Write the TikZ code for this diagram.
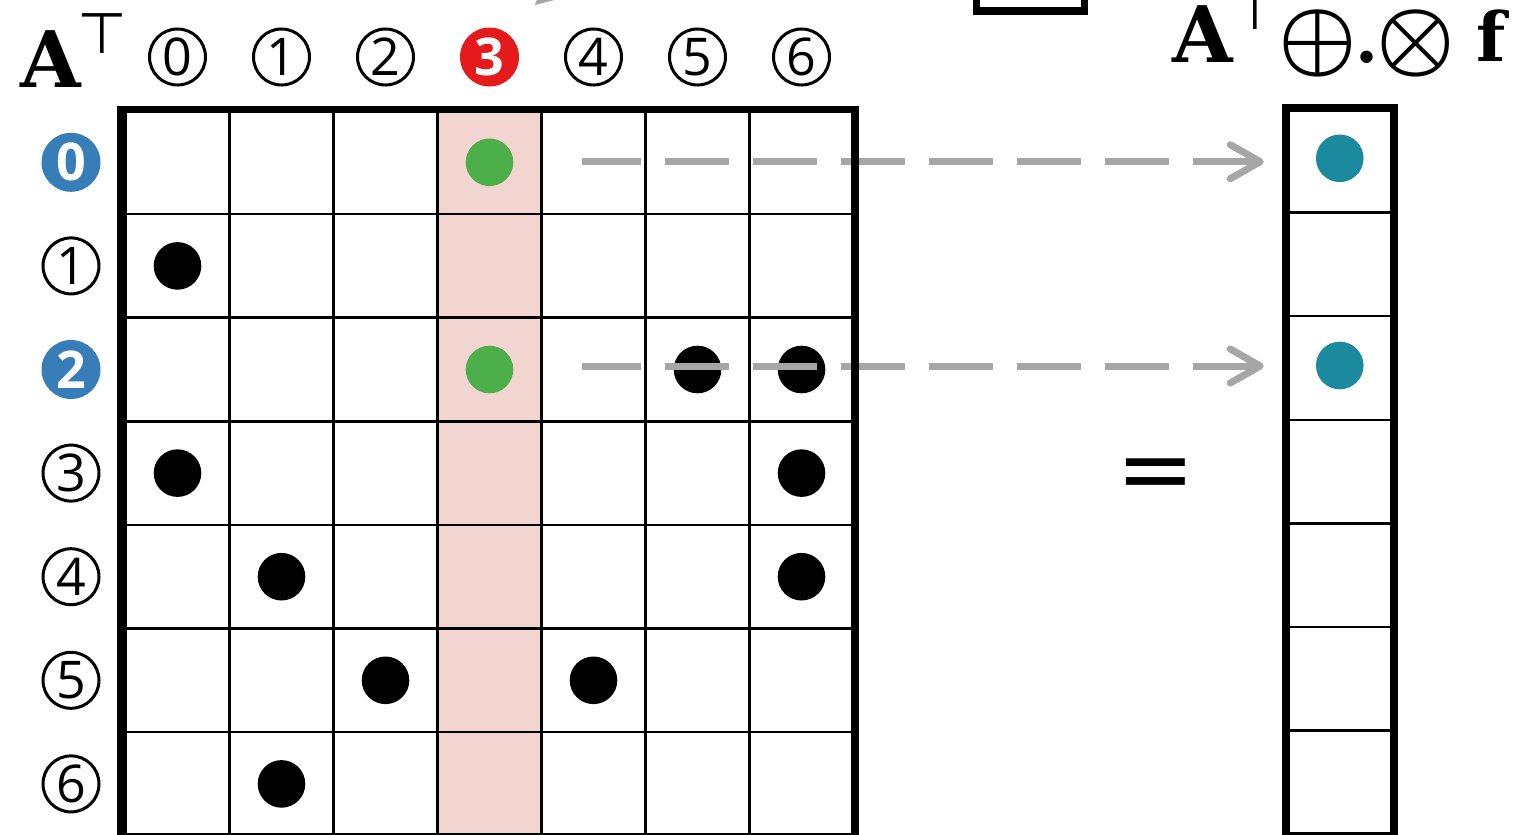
\documentclass[tikz,border=0pt]{standalone}
\usepackage{fontspec}
\setmainfont{DejaVu Serif}
\newfontfamily\symfont{DejaVu Sans}
\newfontfamily\digfont{Open Sans}
\usetikzlibrary{arrows.meta}
\definecolor{pinkcol}{HTML}{F2D4D1}
\definecolor{greendot}{HTML}{4DAF4A}
\definecolor{redlbl}{HTML}{E41A1C}
\definecolor{bluelbl}{HTML}{377EB8}
\definecolor{tealdot}{HTML}{1B8A9E}
\definecolor{arrowgray}{HTML}{A6A6A6}
\tikzset{
  cell/.style={draw, line width=2.5pt, minimum width=104pt, minimum height=103.6pt, inner sep=0pt},
  vcell/.style={draw, line width=2.5pt, minimum width=105.5pt, minimum height=103.6pt, inner sep=0pt},
  hicell/.style={cell, fill=pinkcol},
  border/.style={draw, line width=7.5pt},
  dotnode/.style={circle, fill=#1, minimum size=47.6pt, inner sep=0pt},
  olbl/.style={circle, draw, line width=3pt, minimum size=56pt, inner sep=0pt, font=\digfont\fontsize{52pt}{56pt}\selectfont},
  flbl/.style={circle, fill=#1, text=white, minimum size=59pt, inner sep=0pt, font=\digfont\bfseries\fontsize{52pt}{56pt}\selectfont},
  dasharrow/.style={draw=arrowgray, line width=7pt, dash pattern=on 64pt off 24pt, dash phase=5pt,
    -{Straight Barb[length=30pt, width=34pt, line cap=round, line join=round]}, shorten >=22pt},
  bigA/.style={inner sep=0pt, anchor=base, font=\bfseries\fontsize{78pt}{80pt}\selectfont},
  tack/.style={inner sep=0pt, anchor=base, font=\symfont\fontsize{57pt}{60pt}\selectfont},
  opsym/.style={inner sep=0pt, font=\boldmath},
}
\begin{document}
\begin{tikzpicture}[x=1pt, y=-1pt]
\path[use as bounding box] (0,0) rectangle (1537,835);
\clip (0,0) rectangle (1537,835);
\fill[white] (0,0) rectangle (1537,835);

% partial shapes cut by the top edge
\fill[arrowgray] (535,5) -- (558,-1) -- (541,-12) -- cycle;
\draw[border] (976.5,-60) rectangle (1084.5,11);

% matrix cells
\foreach \r in {0,...,6} {
  \foreach \c in {0,...,6} {
    \ifnum\c=3
      \node[hicell] (m-\r-\c) at ({125.5+104*(\c+0.5)}, {110.5+103.6*(\r+0.5)}) {};
    \else
      \node[cell] (m-\r-\c) at ({125.5+104*(\c+0.5)}, {110.5+103.6*(\r+0.5)}) {};
    \fi
  }
}

% dots
\foreach \r/\c in {1/0, 2/5, 2/6, 3/0, 3/6, 4/1, 4/6, 5/2, 5/4, 6/1}
  \node[dotnode=black] (d-\r-\c) at (m-\r-\c) {};
\foreach \r/\c in {0/3, 2/3}
  \node[dotnode=greendot] (d-\r-\c) at (m-\r-\c) {};

% result vector
\foreach \r in {0,...,6}
  \node[vcell] (v-\r) at (1339.75, {109+103.6*(\r+0.5)}) {};
\node[dotnode=tealdot] (t-0) at ([yshift=2.5pt]v-0.center) {};
\node[dotnode=tealdot] (t-2) at ([yshift=2.5pt]v-2.center) {};

% dashed arrows
\coordinate (a-0) at (582,161.7);
\coordinate (a-2) at (582,366);
\draw[dasharrow] (a-0) -- (v-0.west |- a-0);
\draw[dasharrow] (a-2) -- (v-2.west |- a-2);

% thick borders
\draw[border] ([xshift=-3.5pt]m-0-0.north west) rectangle (m-6-6.south east);
\draw[border] (v-0.north west) rectangle (v-6.south east);

% column headers
\foreach \c in {0,1,2,4,5,6}
  \node[olbl] (h-\c) at ({125.5+104*(\c+0.5)}, 57) {\c};
\node[flbl=redlbl] (h-3) at ({125.5+104*3.5}, 57) {3};

% row labels
\foreach \r in {1,3,4,5,6}
  \node[olbl] (r-\r) at (71, {110.5+103.6*(\r+0.5)}) {\r};
\node[flbl=bluelbl] (r-0) at (71, {110.5+103.6*0.5}) {0};
\node[flbl=bluelbl] (r-2) at (71, {110.5+103.6*2.5}) {2};

% left label
\node[bigA] (A1) at (51,87.3) {A};
\node[tack] (T1) at (102.5,53.3) {⊤};

% right label
\node[bigA] (A2) at (1203,62) {A};
\node[tack] (T2) at (1255,29) {⊤};
\node[opsym] (oplus) at (1318,43) {\scalebox{8.8}{$\oplus$}};
\node[inner sep=0pt, anchor=base, font=\bfseries\fontsize{66pt}{70pt}\selectfont] (dot) at (1366.7,62.3) {.};
\node[opsym] (otimes) at (1416,43) {\scalebox{8.8}{$\otimes$}};
\node[inner sep=0pt, anchor=base, font=\bfseries\fontsize{68pt}{70pt}\selectfont] (f) at (1491.5,61.7) {f};

% equals sign
\node[inner sep=0pt, font=\symfont\fontsize{94pt}{94pt}\selectfont] (eq) at (1156,480) {=};
\end{tikzpicture}
\end{document}
